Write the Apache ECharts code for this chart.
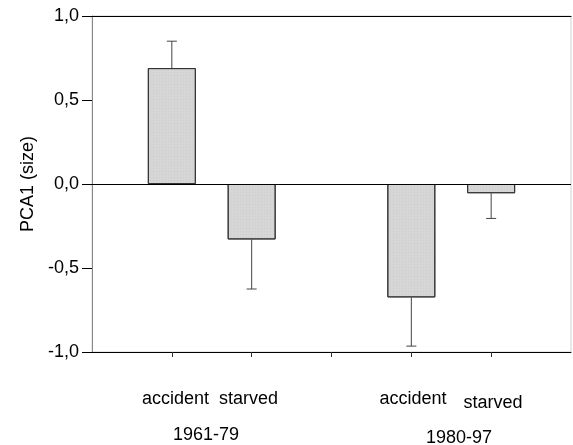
<!DOCTYPE html>
<html><head><meta charset="utf-8">
<script src="https://cdn.jsdelivr.net/npm/echarts@6/dist/echarts.min.js"></script>
<style>html,body{margin:0;padding:0;background:#fff}#c{width:573px;height:445px}</style>
</head><body><div id="c"></div>
<script>
var positions = [1, 2, 4, 5];
var means = [0.69, -0.33, -0.675, -0.055];
var errEnds = [0.85, -0.625, -0.965, -0.205];
var yTicks = ['-1,0', '-0,5', '0,0', '0,5', '1,0'];
var groupLabels = ['1961-79', '1980-97'];
var causeLabels = ['accident', 'starved'];

var chart = echarts.init(document.getElementById('c'));
var barData = positions.map(function (p, i) { return [p, means[i]]; });
var errData = positions.map(function (p, i) { return [p, means[i], errEnds[i]]; });
var font = 'Liberation Sans, Arial, sans-serif';
var fs = 18;
function txt(s, x, y) {
  return { type: 'text', x: x, y: y, style: { text: s, font: fs + 'px ' + font, fill: '#000', align: 'center', verticalAlign: 'middle' } };
}

chart.setOption({
  animation: false,
  grid: { left: 92, right: 2, top: 16, bottom: 93, show: true, borderColor: '#d0d0d0', borderWidth: 1 },
  xAxis: [{
    type: 'value', min: 0, max: 6, interval: 1, position: 'bottom',
    axisLine: { show: true, onZero: false, lineStyle: { color: '#000', width: 1 } },
    axisTick: { show: true, length: 5, lineStyle: { color: '#333' },
      customValues: [1, 2, 3, 4, 5] },
    axisLabel: { show: false }, splitLine: { show: false }
  }, {
    type: 'value', min: 0, max: 6, position: 'top',
    axisLine: { show: true, onZero: false, lineStyle: { color: '#000', width: 1 } },
    axisTick: { show: false }, axisLabel: { show: false }, splitLine: { show: false }
  }],
  yAxis: {
    type: 'value', min: -1, max: 1, interval: 0.5,
    name: 'PCA1 (size)', nameLocation: 'middle', nameGap: 54, nameRotate: 90,
    nameTextStyle: { fontFamily: font, fontSize: fs, color: '#000' },
    axisLine: { show: true, onZero: false, lineStyle: { color: '#888', width: 1 } },
    axisTick: { show: true, inside: false, length: 10, lineStyle: { color: '#000' } },
    axisLabel: { fontFamily: font, fontSize: fs, color: '#000', margin: 13,
      formatter: function (v) { return yTicks[Math.round((v + 1) / 0.5)]; } },
    splitLine: { show: false }
  },
  series: [{
    type: 'bar', data: barData, barWidth: 48, xAxisIndex: 0,
    itemStyle: { color: '#d6d6d6', borderColor: '#333', borderWidth: 1,
      decal: { symbol: 'rect', symbolSize: 0.6, dashArrayX: [1, 2], dashArrayY: [1, 2], color: 'rgba(120,120,120,0.35)' } },
    markLine: { silent: true, symbol: 'none', label: { show: false },
      lineStyle: { color: '#000', width: 1, type: 'solid' }, data: [{ yAxis: 0 }] },
    z: 2
  }, {
    type: 'custom', data: errData, xAxisIndex: 0, z: 3,
    renderItem: function (params, api) {
      var x = api.value(0);
      var p0 = api.coord([x, api.value(1)]);
      var p1 = api.coord([x, api.value(2)]);
      var style = { stroke: '#444', lineWidth: 1 };
      return { type: 'group', children: [
        { type: 'line', shape: { x1: p0[0], y1: p0[1], x2: p1[0], y2: p1[1] }, style: style },
        { type: 'line', shape: { x1: p1[0] - 5, y1: p1[1], x2: p1[0] + 5, y2: p1[1] }, style: style }
      ] };
    }
  }],
  graphic: [
    txt(causeLabels[0] + '  ' + causeLabels[1], 210, 399),
    txt(causeLabels[0], 413, 399),
    txt(causeLabels[1], 493, 403),
    txt(groupLabels[0], 206, 435),
    txt(groupLabels[1], 459, 438)
  ]
});
</script></body></html>
